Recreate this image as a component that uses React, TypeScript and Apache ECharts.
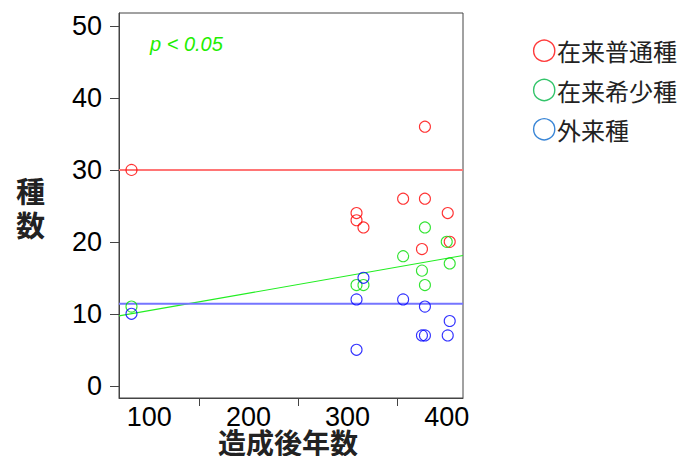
import React, { useEffect, useRef } from "react";
import * as echarts from "echarts";

const seriesNames = ["在来普通種", "在来希少種", "外来種"];
const commonPts: [number, number][] = [
  [82, 30], [309, 24], [309, 23], [316, 22], [356, 26],
  [378, 36], [378, 26], [375, 19], [401, 24], [403, 20],
];
const rarePts: [number, number][] = [
  [82, 11], [309, 14], [316, 14], [356, 18], [378, 22],
  [375, 16], [378, 14], [400, 20], [403, 17],
];
const alienPts: [number, number][] = [
  [82, 10], [309, 12], [316, 15], [309, 5], [356, 12],
  [378, 11], [375, 7], [378, 7], [403, 9], [401, 7],
];
const commonMean: [number, number][] = [[69.4, 30], [416.4, 30]];
const rareFit: [number, number][] = [[69.4, 9.7], [416.4, 18.1]];
const alienMean: [number, number][] = [[69.4, 11.4], [416.4, 11.4]];
const xTickLabels = [100, 200, 300, 400];
const xMinorTicks = [150, 250, 350];
const yTickLabels = [0, 10, 20, 30, 40, 50];

const pointColors = ["#ff0000", "#00dd00", "#0000ff"];
const legendColors = ["#ff3b3b", "#33c46a", "#3a86d6"];

export default function App() {
  const ref = useRef<HTMLDivElement>(null);
  useEffect(() => {
    if (!ref.current) return;
    const chart = echarts.init(ref.current, undefined, { renderer: "svg" });
    const numFont = "Liberation Sans, Arial, sans-serif";
    const cjk = "Noto Sans CJK JP, sans-serif";
    const scatter = (name: string, data: [number, number][], col: string) => ({
      name,
      type: "scatter",
      data,
      symbol: "circle",
      symbolSize: 11,
      itemStyle: { color: "rgba(0,0,0,0)", borderColor: col, borderWidth: 1.1 },
      z: 3,
    });
    const line = (data: [number, number][], col: string, w: number) => ({
      type: "line",
      data,
      symbol: "none",
      silent: true,
      lineStyle: { color: col, width: w },
      z: 2,
    });
    const legendY = [50.7, 90, 129.3];
    const legendGraphics: any[] = [];
    seriesNames.forEach((n, i) => {
      legendGraphics.push({
        type: "circle",
        shape: { cx: 544.2, cy: legendY[i], r: 10.6 },
        style: { fill: "none", stroke: legendColors[i], lineWidth: 1.4 },
      });
      legendGraphics.push({
        type: "text",
        x: 557,
        y: legendY[i],
        style: {
          text: n, fontSize: 24, fill: "#222", fontFamily: cjk,
          textVerticalAlign: "middle", verticalAlign: "middle",
        },
      });
    });
    chart.setOption({
      animation: false,
      backgroundColor: "#fff",
      grid: {
        left: 119, right: 229, top: 13, bottom: 58,
        show: true, borderColor: "#444", borderWidth: 1, backgroundColor: "transparent",
      },
      xAxis: {
        type: "value", min: 69.4, max: 416.4,
        axisLine: { show: true, onZero: false, lineStyle: { color: "#444" } },
        axisTick: { show: true, customValues: xMinorTicks, length: 8, lineStyle: { color: "#444" } },
        axisLabel: {
          customValues: xTickLabels, fontSize: 27, lineHeight: 20, color: "#000",
          fontFamily: numFont, margin: 8.5,
        },
        splitLine: { show: false },
      },
      yAxis: {
        type: "value", min: -1.7, max: 51.8,
        axisLine: { show: true, onZero: false, lineStyle: { color: "#444" } },
        axisTick: { show: true, customValues: yTickLabels, length: 9, lineStyle: { color: "#444" } },
        axisLabel: { customValues: yTickLabels, fontSize: 27, color: "#000", fontFamily: numFont, margin: 17 },
        splitLine: { show: false },
      },
      graphic: [
        {
          type: "text", left: 150, top: 34,
          style: { text: "p < 0.05", fontSize: 20, fontStyle: "italic", fill: "#22ee00", fontFamily: numFont },
        },
        {
          type: "text", left: 16, top: 175,
          style: { text: "種", fontSize: 29, lineHeight: 29, fontWeight: "bold", fill: "#222", fontFamily: cjk },
        },
        {
          type: "text", left: 16, top: 209,
          style: { text: "数", fontSize: 29, lineHeight: 29, fontWeight: "bold", fill: "#222", fontFamily: cjk },
        },
        {
          type: "text", left: 218, top: 428,
          style: { text: "造成後年数", fontSize: 28, lineHeight: 28, fontWeight: "bold", fill: "#222", fontFamily: cjk },
        },
        ...legendGraphics,
      ],
      series: [
        line(commonMean, "#ff7575", 2),
        line(rareFit, "#22ee22", 1.2),
        line(alienMean, "#7575ff", 2),
        scatter(seriesNames[0], commonPts, pointColors[0]),
        scatter(seriesNames[1], rarePts, pointColors[1]),
        scatter(seriesNames[2], alienPts, pointColors[2]),
      ],
    });
    return () => chart.dispose();
  }, []);
  return (
    <div
      ref={ref}
      style={{ position: "fixed", left: 0, top: 0, width: 692, height: 456 }}
    />
  );
}
